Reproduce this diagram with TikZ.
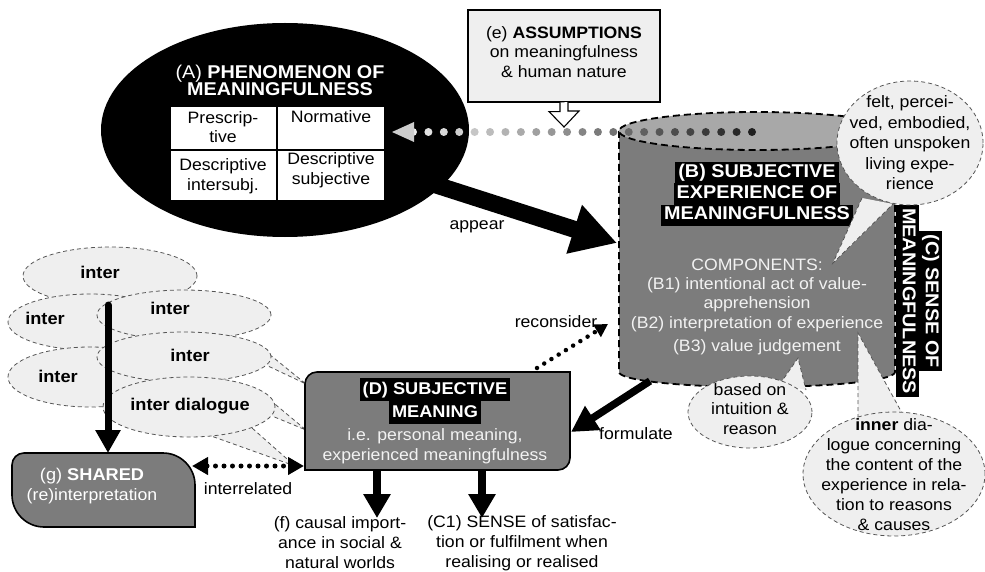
\documentclass[tikz,border=0pt]{standalone}
\usepackage{fontspec}
\setmainfont{Liberation Sans}[FakeStretch=1.07]
\usetikzlibrary{arrows.meta,calc,shapes.geometric}

\definecolor{boxgray}{HTML}{7C7C7C}
\definecolor{topgray}{HTML}{A8A8A8}
\definecolor{bubble}{HTML}{EFEFEF}
\definecolor{dashgray}{HTML}{555555}
\definecolor{paletext}{HTML}{F2F2F2}

% white-on-black highlighted line
\newcommand{\hlbox}[1]{{\setlength{\fboxsep}{0pt}\colorbox{black}{\strut\hspace{3pt}#1\hspace{3pt}}}}

\begin{document}
\begin{tikzpicture}[x=1pt,y=-1pt,
  every node/.style={inner sep=0pt, align=center},
  body/.style={font=\fontsize{16.5}{19.5}\selectfont},
  ttl/.style={font=\fontsize{18.5}{21}\selectfont\bfseries},
  intr/.style={font=\fontsize{17}{20}\selectfont\bfseries},
  bub/.style={ellipse, draw=dashgray, fill=bubble, line width=0.8pt, dash pattern=on 4pt off 3pt},
  tail/.style={draw=dashgray, fill=bubble, line width=0.8pt, dash pattern=on 4pt off 3pt},
  greybox/.style={fill=boxgray, draw=black, line width=1.6pt},
  cyldash/.style={draw=black, line width=1.8pt, dash pattern=on 7pt off 4pt},
  bigarrow/.style={draw=black, line width=17pt, -{Triangle[length=45pt,width=48pt]}},
  midarrow/.style={draw=black, line width=8pt, -{Triangle[length=24pt,width=26pt]}},
  dotline/.style={draw=black, line width=#1, dash pattern=on 0pt off 8.5pt, line cap=round},
]
\useasboundingbox (0,0) rectangle (985,572);

% ---------- inter-subjective dialogue bubbles ----------
\node[bub, minimum width=174, minimum height=58] (i1) at (110,276) {};
\node[bub, minimum width=164, minimum height=56] (i2) at (90,322) {};
\node[bub, minimum width=174, minimum height=50] (i3) at (184,315) {};
\node[bub, minimum width=164, minimum height=60] (i4) at (90,377) {};
\coordinate (t1a) at (264,350); \coordinate (t1b) at (268,366); \coordinate (t1tip) at (306,384);
\draw[tail] (t1a) -- (t1tip) -- (t1b);
\node[bub, minimum width=174, minimum height=50] (i5) at (184,357) {};
\coordinate (t2a) at (270,400); \coordinate (t2b) at (272,416); \coordinate (t2tip) at (306,430);
\draw[tail] (t2a) -- (t2tip) -- (t2b);
\coordinate (t3a) at (200,432); \coordinate (t3b) at (252,428); \coordinate (t3tip) at (295,466);
\draw[tail] (t3a) -- (t3tip) -- (t3b);
\node[bub, minimum width=172, minimum height=60] (i6) at (189,407) {};
\node[intr] (l1) at (100,272) {inter};
\node[intr] (l2) at (45,318) {inter};
\node[intr] (l3) at (170,308) {inter};
\node[intr] (l4) at (58,376) {inter};
\node[intr] (l5) at (190,355) {inter};
\node[intr] (l6) at (190,406) {inter dialogue};

% downward arrow to the shared (re)interpretation
\coordinate (vS) at (108,305); \coordinate (vE) at (108,453);
\draw[draw=black, line width=7pt, line cap=round, -{Triangle[length=23pt,width=24pt]}] (vS) -- (vE);

% ---------- (g) shared box ----------
\draw[greybox] (12,465) .. controls (12,458.4) and (17.4,453) .. (24,453) -- (163,453)
  .. controls (180.6,453) and (195,467.4) .. (195,485) -- (195,527) -- (44,527)
  .. controls (26.4,527) and (12,512.6) .. (12,495) -- cycle;
\node[body, text=white] (gtext) at (92,486) {\fontsize{17}{21}\selectfont(g) \textbf{SHARED}\\(re)interpretation};

% ---------- (D) subjective meaning ----------
\draw[greybox] (305,384) -- (305,470) -- (558,470) .. controls (564.6,470) and (570,464.6) .. (570,458)
  -- (570,372) -- (317,372) .. controls (310.4,372) and (305,377.4) .. (305,384) -- cycle;
\node[text=white, font=\fontsize{17}{23}\selectfont\bfseries] (Dtitle) at (435,401) {\hlbox{(D) SUBJECTIVE}\\\hlbox{MEANING}};
\node[body, text=paletext] (Dtext) at (435,446) {i.e. personal meaning,\\experienced meaningfulness};

% ---------- (A) phenomenon ----------
\node[ellipse, fill=black, minimum width=368, minimum height=214] (A) at (285,130) {};
\node[text=white, font=\fontsize{18.5}{17}\selectfont] (Atitle) at (280,80) {(A) \textbf{PHENOMENON OF}\\\textbf{MEANINGFULNESS}};
\draw[fill=white, line width=1.3pt] (170,106) rectangle (385,201);
\draw[line width=1.3pt] (277,106) -- (277,201) (170,150) -- (385,150);
\node[body] (c11) at (223,127) {Prescrip-\\tive};
\node[body] (c12) at (331,117) {Normative};
\node[body] (c21) at (223,176) {Descriptive\\intersubj.};
\node[body] (c22) at (331,170) {Descriptive\\subjective};

% ---------- (e) assumptions ----------
\node[draw=black, line width=1.2pt, fill=bubble, minimum width=192, minimum height=92] (ebox) at (564,56) {};
\node[body] (etext) at (564,52) {(e) \textbf{ASSUMPTIONS}\\on meaningfulness\\\& human nature};
\coordinate (eTip) at (564,127);
\draw[line width=1.1pt, fill=white, line join=miter] (ebox.south -| eTip) ++(-4,0) -- ++(0,9) -- ++(-11,0)
  -- (eTip) -- ++(15,-16) -- ++(-11,0) -- ++(0,-9);

% ---------- (B) subjective experience (cylinder) ----------
\path[fill=boxgray] (619,131) -- (619,372) .. controls (619,380.3) and (680.8,387) .. (757,387)
  .. controls (833.2,387) and (895,380.3) .. (895,372) -- (895,131) -- cycle;
\draw[cyldash] (619,131) -- (619,372) .. controls (619,380.3) and (680.8,387) .. (757,387)
  .. controls (833.2,387) and (895,380.3) .. (895,372) -- (895,131);
\draw[cyldash, fill=topgray] (757,131) ellipse [x radius=138, y radius=19];

% fading dotted arrow from the experience back to the phenomenon
\coordinate (gS) at (752,132); \coordinate (gE) at (413,132); \coordinate (gTip) at (392,132);
\foreach \i in {0,...,22}{
  \pgfmathsetmacro{\shade}{88-80*\i/22}
  \fill[black!\shade] ($(gS)!\i/22!(gE)$) circle[radius=4pt];
}
\fill[black!20] (gTip) -- ++(22,-10) -- ++(0,20) -- cycle;

\node[ttl, text=white] (Btitle) at (757,194) {\hlbox{(B) SUBJECTIVE}\\\hlbox{EXPERIENCE OF}\\\hlbox{MEANINGFULNESS}};
\node[body, text=paletext, font=\fontsize{16.5}{19}\selectfont] (Bcomp) at (757,307)
  {COMPONENTS:\\(B1) intentional act of value-\\apprehension\\[1pt](B2) interpretation of experience\\[4pt](B3) value judgement};

% ---------- (C) sense of meaningfulness ----------
\node[text=white, rotate=-90, font=\fontsize{18.5}{23}\selectfont\bfseries] (Clabel) at (919,301) {\hlbox{(C) SENSE OF}\\\hlbox{MEANINGFULNESS}};

% ---------- comment bubbles ----------
\coordinate (fTip) at (833,263);
\draw[tail] (862,198) -- (fTip) -- (893,204);
\node[bub, minimum width=146, minimum height=124] (felt) at (910,143) {};
\node[body, font=\fontsize{16.5}{20.5}\selectfont] (feltT) at (910,143) {felt, percei-\\ved, embodied,\\often unspoken\\living expe-\\rience};

\coordinate (bTip) at (798,358);
\draw[tail] (780,384) -- (bTip) -- (806,390);
\node[bub, minimum width=124, minimum height=72] (based) at (750,412) {};
\node[body] (basedT) at (750,409) {based on\\intuition \&\\reason};

\coordinate (nTip) at (858,333);
\draw[tail] (858,425) -- (nTip) -- (902,413);
\node[bub, minimum width=182, minimum height=124] (inner) at (894,474) {};
\node[body, font=\fontsize{16.5}{20}\selectfont] (innerT) at (894,475) {\textbf{inner} dia-\\logue concerning\\the content of the\\experience in rela-\\tion to reasons\\\& causes};

% ---------- connectors ----------
\coordinate (apS) at (433,184); \coordinate (apE) at (617,243);
\draw[bigarrow] (apS) -- (apE);
\node[body] (appear) at (477,227) {appear};

\coordinate (foS) at (650,381); \coordinate (foE) at (571,432);
\draw[draw=black, line width=7.5pt, -{Triangle[length=26pt,width=27pt]}] (foS) -- (foE);
\node[body] (formulate) at (636,434) {formulate};

\coordinate (reS) at (537,368); \coordinate (reE) at (608,324);
\draw[dotline=4.5pt, -{Triangle[length=13pt,width=14pt]}] (reS) -- (reE);
\node[body] (reconsider) at (556,322) {reconsider};

\coordinate (irS) at (192,466); \coordinate (irE) at (304,466);
\draw[dotline=5pt, {Triangle[length=16pt,width=17pt]}-{Triangle[length=16pt,width=17pt]}] (irS) -- (irE);
\node[body] (interrelated) at (248,489) {interrelated};

\coordinate (fS) at (377,470); \coordinate (fE) at (377,518);
\draw[midarrow] (fS) -- (fE);
\coordinate (cS) at (482,470); \coordinate (cE) at (482,518);
\draw[midarrow] (cS) -- (cE);
\node[body, font=\fontsize{16.5}{20}\selectfont] (ftext) at (340,543) {(f) causal import-\\ance in social \&\\natural worlds};
\node[body, font=\fontsize{16.5}{20}\selectfont] (c1text) at (522,543) {(C1) SENSE of satisfac-\\tion or fulfilment when\\realising or realised};

\end{tikzpicture}
\end{document}
